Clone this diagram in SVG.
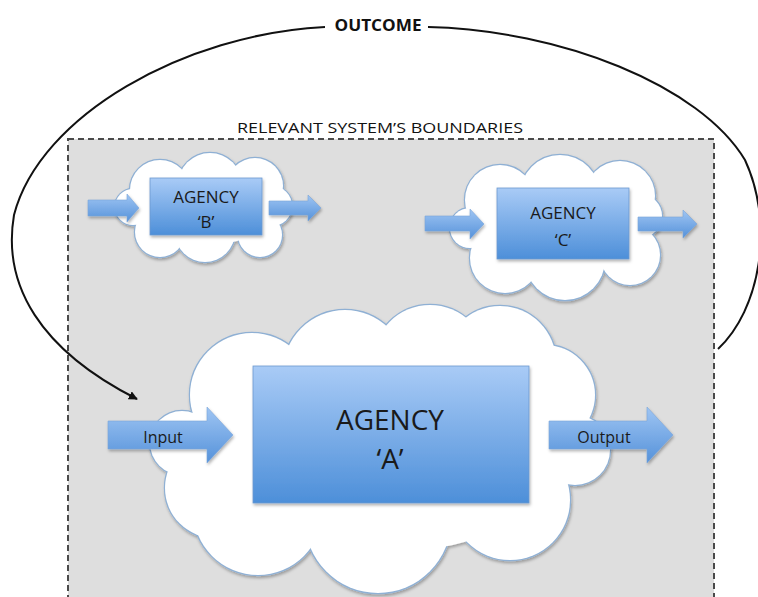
<svg xmlns="http://www.w3.org/2000/svg" width="758" height="597" viewBox="0 0 758 597">
  <defs>
    <linearGradient id="boxFill" x1="0" y1="0" x2="0" y2="1">
      <stop offset="0" stop-color="#a9cbf6"/>
      <stop offset="1" stop-color="#4d8fd9"/>
    </linearGradient>
    <linearGradient id="arrowFill" x1="0" y1="0" x2="0" y2="1">
      <stop offset="0" stop-color="#9fc5f3"/>
      <stop offset="1" stop-color="#5592da"/>
    </linearGradient>
    <filter id="shadow" x="-10%" y="-10%" width="125%" height="130%">
      <feDropShadow dx="1" dy="2" stdDeviation="1.5" flood-color="#000" flood-opacity="0.3"/>
    </filter>
    <marker id="head" viewBox="0 0 10 10" refX="9" refY="5" markerWidth="9" markerHeight="9" markerUnits="userSpaceOnUse" orient="auto">
      <path d="M0,0 L10,5 L0,10 Z" fill="#111"/>
    </marker>
    <style>
      .edge { fill: none; stroke: #111; stroke-width: 2; }
      .bound { fill: #dedede; stroke: #4a4a4a; stroke-width: 2; stroke-dasharray: 6 4; }
      .cloud-line circle, .cloud-line ellipse { fill: none; stroke: #8fb0d4; stroke-width: 2.4; }
      .cloud-fill circle, .cloud-fill ellipse { fill: #fff; stroke: none; }
      .box { fill: url(#boxFill); stroke: #6d9ad0; stroke-width: 0.8; }
      .arrow { fill: url(#arrowFill); stroke: #7aa5d8; stroke-width: 0.6; }
      .lbl { font-family: "Open Sans", "Liberation Sans", sans-serif; fill: #1a1a1a; text-anchor: middle; }
      .title { font-family: "Open Sans", "Liberation Sans", sans-serif; fill: #111; text-anchor: middle; }
    </style>
  </defs>

  <rect width="758" height="597" fill="#fff"/>

  <!-- system boundary -->
  <g id="boundary">
    <rect class="bound" x="68" y="139" width="646" height="480"/>
    <text class="title" x="380" y="133" font-size="15" textLength="286" lengthAdjust="spacingAndGlyphs">RELEVANT SYSTEM’S BOUNDARIES</text>
  </g>

  <!-- feedback loop -->
  <g id="connectors">
    <path class="edge" d="M428,27 C560,30 700,85 745,160 C775,225 760,310 718,349"/>
    <path class="edge" marker-end="url(#head)" d="M325,27 C185,34 40,115 14,215 C2,285 40,350 137,399"/>
    <text class="title" x="378" y="31" font-size="16" font-weight="bold" textLength="87" lengthAdjust="spacingAndGlyphs">OUTCOME</text>
  </g>

  <!-- agency B -->
  <g id="agency-b">
    <g filter="url(#shadow)">
      <g class="cloud-line">
        <circle cx="133" cy="207" r="18"/><circle cx="160" cy="190" r="30"/><circle cx="210" cy="185" r="32"/>
        <circle cx="255" cy="186" r="28"/><circle cx="272" cy="206" r="20"/><circle cx="260" cy="235" r="22"/>
        <circle cx="205" cy="232" r="30"/><circle cx="160" cy="232" r="25"/>
      </g>
      <g class="cloud-fill">
        <circle cx="133" cy="207" r="18"/><circle cx="160" cy="190" r="30"/><circle cx="210" cy="185" r="32"/>
        <circle cx="255" cy="186" r="28"/><circle cx="272" cy="206" r="20"/><circle cx="260" cy="235" r="22"/>
        <circle cx="205" cy="232" r="30"/><circle cx="160" cy="232" r="25"/>
        <ellipse cx="205" cy="210" rx="70" ry="35"/>
      </g>
    </g>
    <polygon class="arrow" filter="url(#shadow)" points="88,200 127,200 127,194 139,208 127,222 127,216 88,216"/>
    <rect class="box" filter="url(#shadow)" x="150" y="178" width="112" height="57"/>
    <polygon class="arrow" filter="url(#shadow)" points="269,201 308,201 308,195 321,208 308,221 308,215 269,215"/>
    <text class="lbl" x="206" y="203" font-size="17">AGENCY</text>
    <text class="lbl" x="206" y="228" font-size="17">‘B’</text>
  </g>

  <!-- agency C -->
  <g id="agency-c">
    <g filter="url(#shadow)">
      <g class="cloud-line">
        <circle cx="470" cy="228" r="20"/><circle cx="500" cy="200" r="35"/><circle cx="560" cy="195" r="40"/>
        <circle cx="620" cy="196" r="35"/><circle cx="640" cy="216" r="22"/><circle cx="630" cy="255" r="30"/>
        <circle cx="565" cy="260" r="40"/><circle cx="505" cy="258" r="35"/>
      </g>
      <g class="cloud-fill">
        <circle cx="470" cy="228" r="20"/><circle cx="500" cy="200" r="35"/><circle cx="560" cy="195" r="40"/>
        <circle cx="620" cy="196" r="35"/><circle cx="640" cy="216" r="22"/><circle cx="630" cy="255" r="30"/>
        <circle cx="565" cy="260" r="40"/><circle cx="505" cy="258" r="35"/>
        <ellipse cx="555" cy="230" rx="85" ry="45"/>
      </g>
    </g>
    <polygon class="arrow" filter="url(#shadow)" points="425,216 470,216 470,209 484,224 470,239 470,231 425,231"/>
    <rect class="box" filter="url(#shadow)" x="497" y="188" width="132" height="71"/>
    <polygon class="arrow" filter="url(#shadow)" points="638,217 683,217 683,210 697,224 683,238 683,231 638,231"/>
    <text class="lbl" x="563" y="219" font-size="17">AGENCY</text>
    <text class="lbl" x="563" y="246" font-size="17">‘C’</text>
  </g>

  <!-- agency A -->
  <g id="agency-a">
    <g filter="url(#shadow)">
      <g class="cloud-line">
        <circle cx="182" cy="443" r="32"/><circle cx="252" cy="395" r="62"/><circle cx="345" cy="372" r="62"/>
        <circle cx="430" cy="362" r="57"/><circle cx="500" cy="362" r="56"/><circle cx="545" cy="395" r="50"/>
        <circle cx="575" cy="450" r="35"/><circle cx="510" cy="500" r="60"/><circle cx="378" cy="520" r="73"/>
        <circle cx="258" cy="510" r="65"/><circle cx="215" cy="488" r="50"/>
      </g>
      <g class="cloud-fill">
        <circle cx="182" cy="443" r="32"/><circle cx="252" cy="395" r="62"/><circle cx="345" cy="372" r="62"/>
        <circle cx="430" cy="362" r="57"/><circle cx="500" cy="362" r="56"/><circle cx="545" cy="395" r="50"/>
        <circle cx="575" cy="450" r="35"/><circle cx="510" cy="500" r="60"/><circle cx="378" cy="520" r="73"/>
        <circle cx="258" cy="510" r="65"/><circle cx="215" cy="488" r="50"/>
        <ellipse cx="380" cy="448" rx="190" ry="105"/>
      </g>
    </g>
    <polygon class="arrow" filter="url(#shadow)" points="108,421 207,421 207,407 233,435 207,463 207,449 108,449"/>
    <rect class="box" filter="url(#shadow)" x="253" y="366" width="276" height="137"/>
    <polygon class="arrow" filter="url(#shadow)" points="549,421 647,421 647,407 673,435 647,463 647,449 549,449"/>
    <text class="lbl" x="390" y="430" font-size="28">AGENCY</text>
    <text class="lbl" x="390" y="469" font-size="28">‘A’</text>
    <text class="lbl" x="163" y="443" font-size="16">Input</text>
    <text class="lbl" x="604" y="443" font-size="16">Output</text>
  </g>
</svg>
